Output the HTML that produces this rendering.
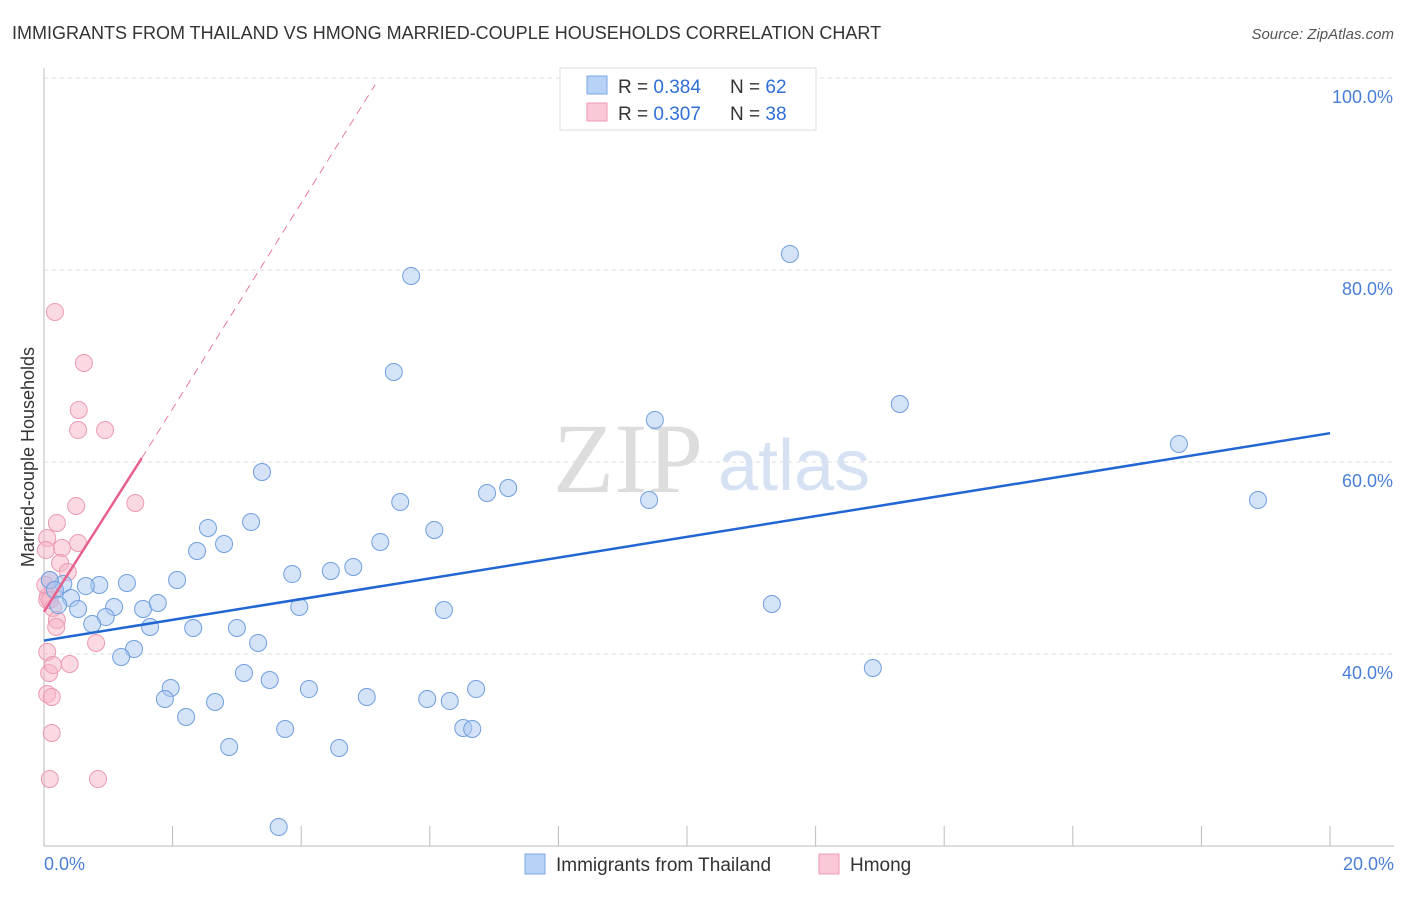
<!DOCTYPE html>
<html><head><meta charset="utf-8"><style>
body{margin:0;background:#fff;font-family:"Liberation Sans",sans-serif}
svg text{font-family:"Liberation Sans",sans-serif}
</style></head><body>
<svg width="1406" height="892">
<text x="12" y="39" font-size="18" fill="#333">IMMIGRANTS FROM THAILAND VS HMONG MARRIED-COUPLE HOUSEHOLDS CORRELATION CHART</text>
<text x="1394" y="39" font-size="15" fill="#555" text-anchor="end" font-style="italic">Source: ZipAtlas.com</text>
<g id="grid"></g>
<line x1="44" y1="68" x2="44" y2="846" stroke="#bbb"/>
<line x1="44" y1="846" x2="1394" y2="846" stroke="#bbb"/>
<text x="553" y="492" font-size="100" fill="#ddd" font-family="Liberation Serif" style="font-family:'Liberation Serif',serif">ZIP</text>
<text x="718" y="490" font-size="72" fill="#d6e2f3">atlas</text>
<g id="pts"></g>
<g id="trend"></g>
<text transform="translate(34,457) rotate(-90)" font-size="18" fill="#333" text-anchor="middle">Married-couple Households</text>
<text x="44" y="870" font-size="18" fill="#4a7fd6">0.0%</text>
<text x="1394" y="870" font-size="18" fill="#4a7fd6" text-anchor="end">20.0%</text>
<g>
<rect x="560" y="68" width="256" height="62" fill="#fff" stroke="#ddd"/>
<rect x="587" y="76" width="20" height="18" fill="#b8d2f5" stroke="#7aa7e6"/>
<rect x="587" y="103" width="20" height="18" fill="#fac8d6" stroke="#ef9ab4"/>
<text x="618" y="93" font-size="19" fill="#333">R = <tspan fill="#2f6fd6">0.384</tspan></text>
<text x="730" y="93" font-size="19" fill="#333">N = <tspan fill="#2f6fd6">62</tspan></text>
<text x="618" y="120" font-size="19" fill="#333">R = <tspan fill="#2f6fd6">0.307</tspan></text>
<text x="730" y="120" font-size="19" fill="#333">N = <tspan fill="#2f6fd6">38</tspan></text>
</g>
<g>
<rect x="525" y="854" width="20" height="20" fill="#b8d2f5" stroke="#7aa7e6"/>
<text x="556" y="871" font-size="19" fill="#333">Immigrants from Thailand</text>
<rect x="819" y="854" width="20" height="20" fill="#fac8d6" stroke="#ef9ab4"/>
<text x="850" y="871" font-size="19" fill="#333">Hmong</text>
</g>
</svg>
<script>
const yTicks=[40,60,80,100];
const xTickVals=[2,4,6,8,10,12,14,16,18,20];
const blueX=[5.71,11.60,5.44,9.50,13.31,17.65,18.88,3.39,6.89,7.22,5.54,9.41,3.22,2.55,6.07,2.80,2.38,5.23,4.81,4.46,3.86,2.07,1.29,0.86,0.65,0.30,0.09,0.42,0.53,1.09,1.54,1.77,0.96,0.75,1.65,2.32,3.00,3.97,6.22,11.32,3.33,1.40,1.20,3.11,3.51,12.89,1.97,4.12,1.88,5.02,2.66,5.96,6.31,6.72,2.21,2.88,3.75,4.59,6.52,6.66,3.65,0.17,0.22];
const blueY=[79.38,81.67,69.38,64.38,66.04,61.88,56.04,58.96,56.77,57.29,55.83,56.04,53.75,53.13,52.92,51.46,50.73,51.67,49.06,48.65,48.33,47.71,47.40,47.19,47.08,47.29,47.71,45.83,44.69,44.90,44.69,45.31,43.85,43.13,42.81,42.71,42.71,44.90,44.58,45.21,41.15,40.52,39.69,38.02,37.29,38.54,36.46,36.35,35.31,35.52,35.0,35.31,35.10,36.35,33.44,30.31,32.19,30.21,32.29,32.19,21.98,46.67,45.10];
const pinkX=[0.17,0.62,0.54,0.53,0.95,1.42,0.50,0.20,0.05,0.28,0.03,0.53,0.25,0.37,0.09,0.14,0.06,0.05,0.14,0.20,0.19,0.81,0.40,0.05,0.08,0.14,0.05,0.12,0.12,0.09,0.84,0.02,0.09];
const pinkY=[75.63,70.31,65.42,63.33,63.33,55.73,55.42,53.65,52.08,51.04,50.83,51.56,49.48,48.54,47.71,46.67,46.04,45.63,44.79,43.54,42.81,41.15,38.96,40.21,38.02,38.85,35.83,35.52,31.77,26.98,26.98,47.19,45.63];
const X=v=>44+v*64.3, Y=v=>654-(v-40)*9.6;
const NS='http://www.w3.org/2000/svg';
function mk(t,a,p){const e=document.createElementNS(NS,t);for(const k in a)e.setAttribute(k,a[k]);p.appendChild(e);return e;}
const grid=document.getElementById('grid');
yTicks.forEach(v=>{
 const l=mk('line',{x1:44,x2:1394,y1:Y(v),y2:Y(v),stroke:'#ddd','stroke-dasharray':'4,4'},grid);
 
 
 const t=mk('text',{x:1393,y:Y(v)+25,'font-size':18,fill:'#4a7fd6','text-anchor':'end'},grid);
 t.textContent=v.toFixed(1)+'%';
 
 
});
xTickVals.forEach(v=>{
 const l=mk('line',{x1:X(v),x2:X(v),y1:826,y2:846,stroke:'#bbb'},grid);
 
 
});
const pts=document.getElementById('pts');
pinkX.forEach((v,i)=>{
 const c=mk('circle',{cx:X(v),cy:Y(pinkY[i]),r:8.5,fill:'rgba(248,180,200,0.5)',stroke:'#eb9ab3','stroke-width':1},pts);
 
 
});
blueX.forEach((v,i)=>{
 const c=mk('circle',{cx:X(v),cy:Y(blueY[i]),r:8.5,fill:'rgba(170,200,240,0.5)',stroke:'#6f9fe0','stroke-width':1},pts);
 
 
});
const tr=document.getElementById('trend');
let l=mk('line',{x1:X(0),y1:Y(41.4),x2:X(20),y2:Y(63.0),stroke:'#2266d4','stroke-width':2.5},tr);


l=mk('line',{x1:X(1.52),y1:Y(60.4),x2:X(5.15),y2:Y(99.3),stroke:'#e8799c','stroke-width':1,'stroke-dasharray':'8,6'},tr);


l=mk('line',{x1:X(0),y1:Y(44.4),x2:X(1.52),y2:Y(60.4),stroke:'#e8608c','stroke-width':2.5},tr);


</script>
</body></html>
